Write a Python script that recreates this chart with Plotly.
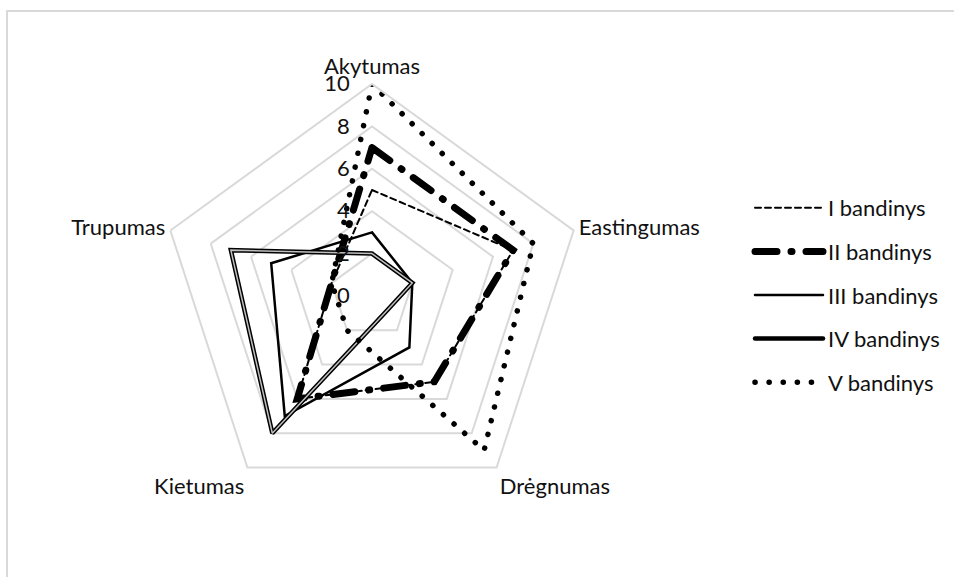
import plotly.graph_objects as go

categories = ["Akytumas", "Eastingumas", "Drėgnumas", "Kietumas", "Trupumas"]
series_names = ["I bandinys", "II bandinys", "III bandinys", "IV bandinys", "V bandinys"]
s1 = [5, 7, 5, 6, 2]
s2 = [7, 7, 5, 6, 2]
s3 = [3, 2, 3, 7, 5]
s4 = [2, 2, 1, 8, 7]
s5 = [10, 8, 9, 2, 2]
radial_ticks = [0, 2, 4, 6, 8, 10]

FONT = "Lato"
FS = 22
W, H = 954, 577
cx, cy, R = 372, 296, 212


def closed(v):
    return list(v) + [v[0]]


theta = closed(categories)
fig = go.Figure()

fig.add_trace(go.Scatterpolar(r=closed(s1), theta=theta, mode="lines", name=series_names[0],
                              legendgroup="g1",
                              line=dict(color="black", width=2, dash="6px,4px")))
fig.add_trace(go.Scatterpolar(r=closed(s2), theta=theta, mode="lines", name=series_names[1],
                              legendgroup="g2",
                              line=dict(color="black", width=7, dash="22px,14px,1px,14px")))
fig.add_trace(go.Scatterpolar(r=closed(s3), theta=theta, mode="lines", name=series_names[2],
                              legendgroup="g3",
                              line=dict(color="black", width=2.5)))
fig.add_trace(go.Scatterpolar(r=closed(s4), theta=theta, mode="lines", name=series_names[3],
                              legendgroup="g4",
                              line=dict(color="black", width=4.5)))
fig.add_trace(go.Scatterpolar(r=closed(s4), theta=theta, mode="lines", name=series_names[3],
                              legendgroup="g4", showlegend=False,
                              line=dict(color="#bfbfbf", width=1.5)))
fig.add_trace(go.Scatterpolar(r=closed(s5), theta=theta, mode="lines", name=series_names[4],
                              legendgroup="g5",
                              line=dict(color="black", width=5.5, dash="0.1px,14px")))

fig.update_layout(
    width=W, height=H,
    margin=dict(l=0, r=0, t=0, b=0),
    paper_bgcolor="white",
    font=dict(family=FONT, size=FS, color="#111111"),
    showlegend=True,
    legend=dict(x=750 / W, y=1 - 187 / H, xanchor="left", yanchor="top",
                font=dict(family=FONT, size=FS, color="#111111"),
                tracegroupgap=12, itemwidth=68, bgcolor="rgba(0,0,0,0)"),
    polar=dict(
        domain=dict(x=[(cx - R) / W, (cx + R) / W], y=[(H - cy - R) / H, (H - cy + R) / H]),
        gridshape="linear",
        bgcolor="white",
        angularaxis=dict(direction="clockwise", rotation=90, showgrid=False,
                         showline=True, linecolor="#d9d9d9", linewidth=2,
                         ticks="", tickfont=dict(family=FONT, size=FS, color="#111111")),
        radialaxis=dict(range=[0, 10], tickvals=radial_ticks, angle=90, tickangle=90,
                        side="counterclockwise", showline=False,
                        gridcolor="#d9d9d9", gridwidth=2,
                        ticks="outside", ticklen=14, tickcolor="rgba(0,0,0,0)",
                        tickfont=dict(family=FONT, size=FS, color="#111111")),
    ),
    shapes=[dict(type="rect", xref="paper", yref="paper",
                 x0=7 / W, x1=1.05, y0=-0.05, y1=1 - 11 / H,
                 line=dict(color="#d9d9d9", width=2), fillcolor="rgba(0,0,0,0)", layer="below")],
)

post = """
document.body.style.margin='0';
document.querySelectorAll('path.js-line').forEach(function(p){p.style.strokeLinecap='round';});
"""
fig.write_html("out.html", post_script=post, config={"displayModeBar": False})
